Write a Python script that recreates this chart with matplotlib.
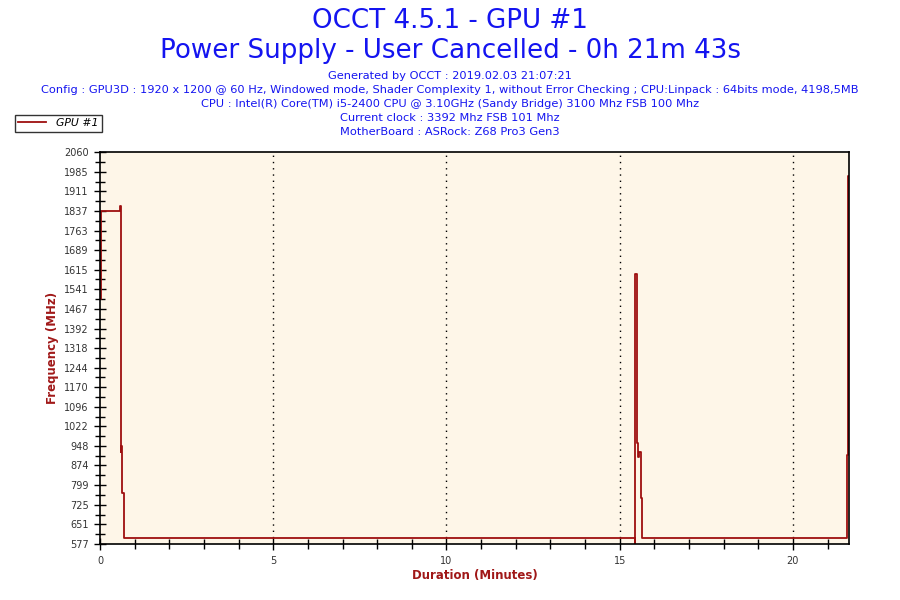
import numpy as np
import matplotlib
matplotlib.use('Agg')
import matplotlib.pyplot as plt
from matplotlib.ticker import FixedLocator, MultipleLocator

# data (minutes, MHz)
times = [0.00, 0.02, 0.57, 0.60, 0.62, 0.64, 0.68, 15.43, 15.45, 15.50,
         15.54, 15.56, 15.61, 15.65, 21.57, 21.59, 21.62]
freq = [1504, 1837, 1856, 925, 948, 770, 601, 577, 1598, 959,
        905, 925, 751, 601, 914, 1970, 1970]

ytick_vals = [577, 651, 725, 799, 874, 948, 1022, 1096, 1170, 1244, 1318,
              1392, 1467, 1541, 1615, 1689, 1763, 1837, 1911, 1985, 2060]
xtick_vals = [0, 5, 10, 15, 20]

title1 = 'OCCT 4.5.1 - GPU #1'
title2 = 'Power Supply - User Cancelled - 0h 21m 43s'
info = ['Generated by OCCT : 2019.02.03 21:07:21',
        'Config : GPU3D : 1920 x 1200 @ 60 Hz, Windowed mode, Shader Complexity 1, without Error Checking ; CPU:Linpack : 64bits mode, 4198,5MB',
        'CPU : Intel(R) Core(TM) i5-2400 CPU @ 3.10GHz (Sandy Bridge) 3100 Mhz FSB 100 Mhz',
        'Current clock : 3392 Mhz FSB 101 Mhz',
        'MotherBoard : ASRock: Z68 Pro3 Gen3']

blue = '#1414F0'
red = '#9E0F0F'
lab = '#A01818'

fig = plt.figure(figsize=(9, 6), dpi=100)
fig.patch.set_facecolor('white')
ax = fig.add_axes([100 / 900, 56 / 600, 749 / 900, 392 / 600])
ax.set_facecolor('#FEF6E8')

ax.plot(times, freq, drawstyle='steps-post', color=red, lw=1.3, label='GPU #1')

ax.set_xlim(0, 21.62)
ax.set_ylim(577, 2060)

ax.yaxis.set_major_locator(FixedLocator(ytick_vals))
ax.yaxis.set_minor_locator(FixedLocator([(a + b) / 2 for a, b in zip(ytick_vals[:-1], ytick_vals[1:])]))
ax.set_yticklabels([str(v) for v in ytick_vals])
ax.xaxis.set_major_locator(FixedLocator(xtick_vals))
ax.xaxis.set_minor_locator(MultipleLocator(1))

ax.tick_params(which='major', direction='inout', length=9, width=1, colors='black',
               labelcolor='#333333', labelsize=7)
ax.tick_params(which='minor', direction='inout', length=7, width=1, colors='black')
ax.tick_params(axis='x', pad=4)

for v in xtick_vals[1:]:
    ax.axvline(v, color='black', lw=1, linestyle=(0, (1, 3.5)), zorder=1)

for s in ax.spines.values():
    s.set_linewidth(1.2)
    s.set_color('black')

ax.set_ylabel('Frequency (MHz)', color=lab, fontsize=8.5, fontweight='bold', labelpad=4)
ax.set_xlabel('Duration (Minutes)', color=lab, fontsize=8.5, fontweight='bold', labelpad=2)

fig.text(0.5, 1 - 21 / 600, title1, ha='center', va='center', color=blue, fontsize=18.8)
fig.text(0.5, 1 - 51 / 600, title2, ha='center', va='center', color=blue, fontsize=18.8)
for i, line in enumerate(info):
    fig.text(0.5, 1 - (76 + 14 * i) / 600, line, ha='center', va='center', color=blue, fontsize=8.2)

leg = fig.legend(loc='upper left', bbox_to_anchor=(15 / 900, 1 - 115 / 600), frameon=True,
                 fancybox=False, handlelength=2.6, borderpad=0.3, handletextpad=0.9,
                 borderaxespad=0, prop={'style': 'italic', 'size': 7.8})
leg.get_frame().set_edgecolor('black')
leg.get_frame().set_linewidth(1)

fig.savefig('out.png', dpi=100)
